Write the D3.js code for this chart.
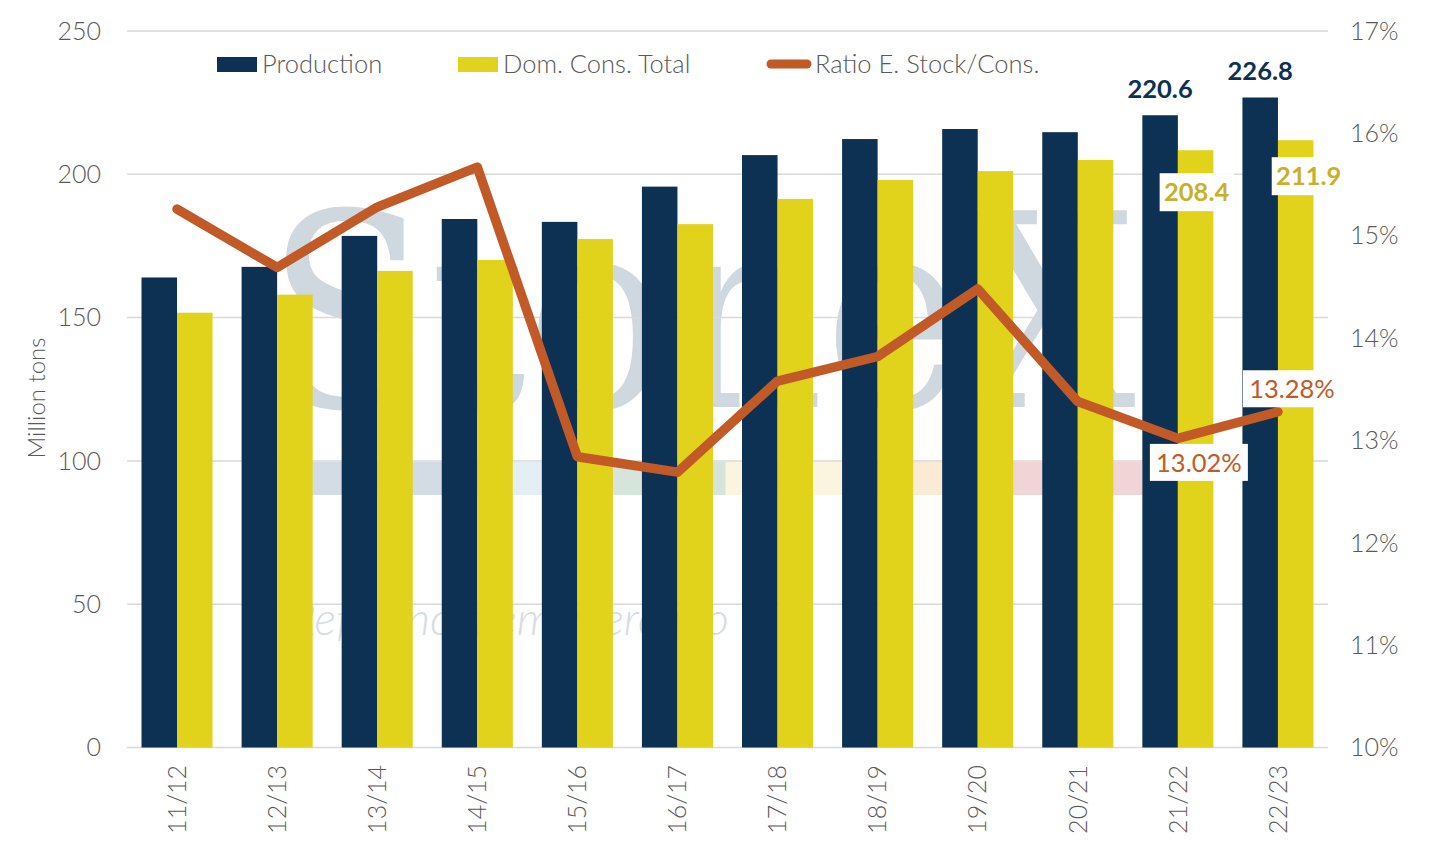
<!DOCTYPE html>
<html>
  <body style="margin:0;background:#fff">
    <style>
      svg { font-family: Lato, "Open Sans", sans-serif; }
      .tick-label { fill: #595959; font-size: 25px; font-weight: 300; }
    </style>
    <script src="https://d3js.org/d3.v7.min.js"></script>
    <script type="text/javascript">
      const width = 1434;
      const height = 859;

      const seasons = ['11/12', '12/13', '13/14', '14/15', '15/16', '16/17', '17/18', '18/19', '19/20', '20/21', '21/22', '22/23'];
      const production = [164.0, 167.7, 178.5, 184.4, 183.4, 195.7, 206.7, 212.3, 215.8, 214.7, 220.6, 226.8];
      const consumption = [151.7, 158.0, 166.3, 170.1, 177.4, 182.6, 191.4, 198.0, 201.1, 205.0, 208.4, 211.9];
      const ratio = [15.26, 14.69, 15.28, 15.67, 12.84, 12.69, 13.58, 13.82, 14.48, 13.38, 13.02, 13.28];
      const leftTicks = [0, 50, 100, 150, 200, 250];
      const rightTicks = [10, 11, 12, 13, 14, 15, 16, 17];

      const navy = '#0C3153';
      const yellow = '#E1D21B';
      const orange = '#C25A27';

      const svg = d3.select('body')
        .append('svg')
        .attr('width', width)
        .attr('height', height)

      const x = d3.scaleBand()
        .domain(seasons)
        .range([127, 1328])
        .paddingInner(0.29)
        .paddingOuter(0.145)

      const xSub = d3.scaleBand()
        .domain(['prod', 'cons'])
        .range([0, x.bandwidth()])

      const y = d3.scaleLinear()
        .domain([0, 250])
        .range([747.5, 31])

      const yRight = d3.scaleLinear()
        .domain([10, 17])
        .range([747.5, 31])

      const center = (s) => x(s) + x.bandwidth() / 2;

      // watermark (faint logo behind the data)
      const wm = svg.append('g')
      const logo = wm.append('text')
        .attr('x', 0)
        .attr('y', 0)
        .attr('font-family', '"DejaVu Serif", "Liberation Serif", serif')
        .attr('font-size', 270)
        .attr('fill', '#CFD7DF')
        .text('StoneX')
      const natural = logo.node().getComputedTextLength();
      logo.attr('transform', `translate(266,407) scale(${870 / natural},1)`)

      const stripColors = ['#D3DBE4', '#E3EEF5', '#D6E5DC', '#FBF4DF', '#FCEBD4', '#F1D4D6'];
      const strip = d3.scaleBand().domain(d3.range(stripColors.length)).range([309, 1142])
      wm.selectAll('rect')
        .data(stripColors)
        .enter()
        .append('rect')
        .attr('x', (d, i) => strip(i))
        .attr('y', 462)
        .attr('width', strip.bandwidth() + 0.5)
        .attr('height', 33)
        .attr('fill', (d) => d)

      wm.append('text')
        .attr('x', 290)
        .attr('y', 635)
        .attr('font-size', 46)
        .attr('font-style', 'italic')
        .attr('font-weight', 300)
        .attr('fill', '#D6DCE2')
        .text('Referência em Mercado')

      // gridlines
      svg.append('g')
        .selectAll('line')
        .data(leftTicks)
        .enter()
        .append('line')
        .attr('x1', 127)
        .attr('x2', 1328)
        .attr('y1', (d) => y(d))
        .attr('y2', (d) => y(d))
        .attr('stroke', '#D9D9D9')
        .attr('stroke-width', 1.5)

      // left axis labels
      svg.append('g')
        .selectAll('text')
        .data(leftTicks)
        .enter()
        .append('text')
        .attr('class', 'tick-label')
        .attr('x', 101)
        .attr('y', (d) => y(d))
        .attr('dy', '0.35em')
        .attr('text-anchor', 'end')
        .text((d) => d)

      // right axis labels
      svg.append('g')
        .selectAll('text')
        .data(rightTicks)
        .enter()
        .append('text')
        .attr('class', 'tick-label')
        .attr('x', 1350)
        .attr('y', (d) => yRight(d))
        .attr('dy', '0.35em')
        .text((d) => d + '%')

      // x axis labels
      svg.append('g')
        .selectAll('text')
        .data(seasons)
        .enter()
        .append('text')
        .attr('class', 'tick-label')
        .attr('transform', (d) => `translate(${center(d)},765) rotate(-90)`)
        .attr('dy', '0.35em')
        .attr('text-anchor', 'end')
        .text((d) => d)

      svg.append('text')
        .attr('transform', 'translate(37,398) rotate(-90)')
        .attr('text-anchor', 'middle')
        .attr('dy', '0.35em')
        .attr('fill', '#595959')
        .attr('font-size', 24)
        .attr('font-weight', 300)
        .text('Million tons')

      // bars
      const bars = svg.append('g')
      bars.selectAll('rect.prod')
        .data(seasons)
        .enter()
        .append('rect')
        .attr('class', 'prod')
        .attr('x', (d) => x(d) + xSub('prod'))
        .attr('width', xSub.bandwidth())
        .attr('y', (d, i) => y(production[i]))
        .attr('height', (d, i) => y(0) - y(production[i]))
        .attr('fill', navy)

      bars.selectAll('rect.cons')
        .data(seasons)
        .enter()
        .append('rect')
        .attr('class', 'cons')
        .attr('x', (d) => x(d) + xSub('cons'))
        .attr('width', xSub.bandwidth())
        .attr('y', (d, i) => y(consumption[i]))
        .attr('height', (d, i) => y(0) - y(consumption[i]))
        .attr('fill', yellow)

      // ratio line
      const line = d3.line()
        .x((d, i) => center(seasons[i]))
        .y((d) => yRight(d))

      svg.append('path')
        .datum(ratio)
        .attr('d', line)
        .attr('fill', 'none')
        .attr('stroke', orange)
        .attr('stroke-width', 9.5)
        .attr('stroke-linejoin', 'round')
        .attr('stroke-linecap', 'round')

      // data labels
      const last = seasons.slice(-2);
      const labels = svg.append('g')
        .attr('font-size', 25.5)

      last.forEach((s) => {
        const i = seasons.indexOf(s);
        const px = x(s) + xSub('prod') + xSub.bandwidth() / 2;
        labels.append('text')
          .attr('x', px)
          .attr('y', y(production[i]) - 17)
          .attr('text-anchor', 'middle')
          .attr('font-weight', 700)
          .attr('fill', navy)
          .text(production[i].toFixed(1))
      })

      function boxLabel(cx, cy, txt, color, weight, w, h) {
        labels.append('rect')
          .attr('x', cx - w / 2)
          .attr('y', cy - h / 2)
          .attr('width', w)
          .attr('height', h)
          .attr('fill', '#fff')
        labels.append('text')
          .attr('x', cx)
          .attr('y', cy)
          .attr('dy', '0.36em')
          .attr('text-anchor', 'middle')
          .attr('font-weight', weight)
          .attr('fill', color)
          .text(txt)
      }

      const consShift = [[1, 42], [13, 36]];
      last.forEach((s, k) => {
        const i = seasons.indexOf(s);
        const cx = x(s) + xSub('cons') + xSub.bandwidth() / 2 + consShift[k][0];
        boxLabel(cx, y(consumption[i]) + consShift[k][1], consumption[i].toFixed(1), '#C9B02B', 700, 74, 38);
      })

      const ratioShift = [[21, 24], [14, -23]];
      last.forEach((s, k) => {
        const i = seasons.indexOf(s);
        boxLabel(center(s) + ratioShift[k][0], yRight(ratio[i]) + ratioShift[k][1], ratio[i].toFixed(2) + '%', orange, 400, 98, 37);
      })

      // legend
      const legend = svg.append('g')
        .attr('font-size', 25.5)
        .attr('font-weight', 300)
        .attr('fill', '#595959')

      legend.append('rect').attr('x', 217).attr('y', 57).attr('width', 40).attr('height', 15).attr('fill', navy)
      legend.append('text').attr('x', 262).attr('y', 64).attr('dy', '0.35em').text('Production')
      legend.append('rect').attr('x', 458).attr('y', 57).attr('width', 40).attr('height', 15).attr('fill', yellow)
      legend.append('text').attr('x', 503).attr('y', 64).attr('dy', '0.35em').text('Dom. Cons. Total')
      legend.append('line')
        .attr('x1', 771).attr('x2', 807).attr('y1', 64).attr('y2', 64)
        .attr('stroke', orange).attr('stroke-width', 9).attr('stroke-linecap', 'round')
      legend.append('text').attr('x', 815).attr('y', 64).attr('dy', '0.35em').text('Ratio E. Stock/Cons.')
    </script>
  </body>
</html>
